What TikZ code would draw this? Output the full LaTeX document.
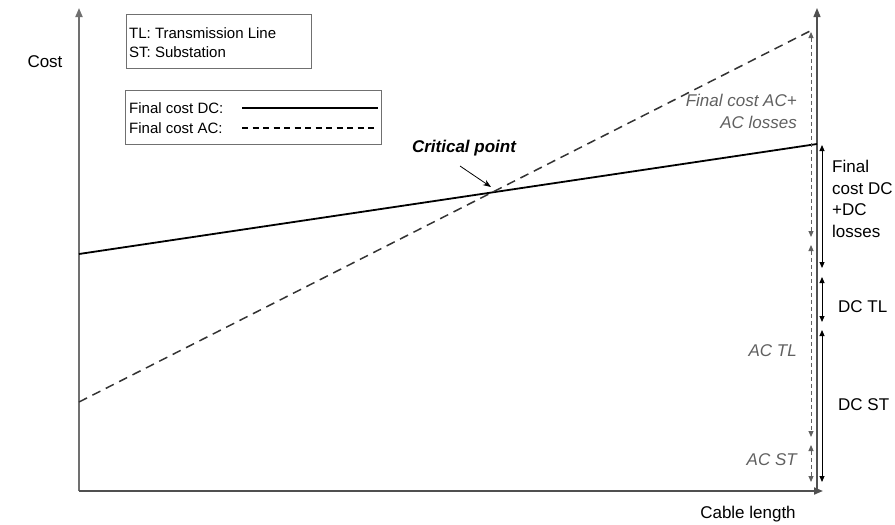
\documentclass[tikz,border=0pt]{standalone}
\usepackage{fontspec}
\setmainfont{Liberation Sans}
\usetikzlibrary{arrows.meta}
\definecolor{axisgray}{HTML}{707070}
\definecolor{axisdark}{HTML}{505050}
\definecolor{acgray}{HTML}{333333}
\definecolor{dimgray}{HTML}{606060}
\definecolor{txtgray}{HTML}{606060}
\begin{document}
\begin{tikzpicture}[x=1pt,y=-1pt,
  axisline/.style={line width=1.8pt,draw=axisgray,-{Triangle[length=9pt,width=7pt]}},
  dcline/.style={line width=1.8pt,draw=black},
  acline/.style={line width=1.5pt,draw=acgray,dash pattern=on 9pt off 6pt},
  acdim/.style={line width=1pt,draw=dimgray,dash pattern=on 4pt off 3pt,{Triangle[length=6pt,width=5pt]}-{Triangle[length=6pt,width=5pt]}},
  dcdim/.style={line width=1pt,draw=black,{Triangle[length=6pt,width=5pt]}-{Triangle[length=6pt,width=5pt]}},
  legbox/.style={draw=axisgray,line width=0.8pt},
  lbl/.style={font=\fontsize{17}{21}\selectfont,inner sep=0pt},
  actext/.style={font=\fontsize{17}{22}\selectfont\itshape,text=txtgray,inner sep=0pt,align=right},
  dctext/.style={font=\fontsize{17}{21.5}\selectfont,inner sep=0pt,align=left},
  legtext/.style={font=\fontsize{15}{19}\selectfont,inner sep=0pt,anchor=west}]
\useasboundingbox (0,0) rectangle (895,525);

% axes
\coordinate (O) at (79,491);
\coordinate (Ytop) at (79,8);
\coordinate (Xend) at (823,491);
\coordinate (Rbot) at (817,491);
\coordinate (Rtop) at (817,8);
\draw[axisline] (O) -- (Ytop);
\draw[axisline,draw=axisdark] (O) -- (Xend);
\draw[line width=1.2pt,draw=axisdark,-{Triangle[length=9pt,width=7pt]}] (Rbot) -- (Rtop);

\node[lbl,anchor=center] (cost) at (45,62) {Cost};
\node[lbl,anchor=center] (clen) at (748,514) {Cable length};

% cost lines
\coordinate (DCs) at (79,254);
\coordinate (DCe) at (817,144);
\coordinate (ACs) at (79,402);
\coordinate (ACe) at (814,29);
\draw[dcline] (DCs) -- (DCe);
\draw[acline] (ACs) -- (ACe);

% legend boxes
\node[legbox,minimum width=185pt,minimum height=54pt,anchor=north west] (box1) at (126,14) {};
\node[legtext] (tl) at (129,33) {TL: Transmission Line};
\node[legtext] (st) at (129,52) {ST: Substation};

\node[legbox,minimum width=256pt,minimum height=54pt,anchor=north west] (box2) at (125,90) {};
\node[legtext] (fdc) at (129,108) {Final cost DC:};
\node[legtext] (fac) at (129,128) {Final cost AC:};
\coordinate (l1a) at (242,108);
\coordinate (l1b) at (378,108);
\coordinate (l2a) at (242,128);
\coordinate (l2b) at (378,128);
\draw[line width=1.1pt] (l1a) -- (l1b);
\draw[line width=1.1pt,dash pattern=on 6pt off 4.5pt] (l2a) -- (l2b);

% critical point
\node[font=\fontsize{17}{21}\selectfont\bfseries\itshape,inner sep=0pt] (crit) at (464,148) {Critical point};
\coordinate (ca) at (460,166);
\coordinate (cb) at (491,187);
\draw[line width=0.8pt,-{Stealth[length=8pt,width=6pt]}] (ca) -- (cb);

% AC dimension arrows
\coordinate (a0) at (811,32);
\coordinate (a1) at (811,237);
\coordinate (a2) at (811,245);
\coordinate (a3) at (811,437);
\coordinate (a4) at (811,445);
\coordinate (a5) at (811,482);
\draw[acdim] (a0) -- (a1);
\draw[acdim] (a2) -- (a3);
\draw[acdim] (a4) -- (a5);

% DC dimension arrows
\coordinate (d0) at (822,145);
\coordinate (d1) at (822,268);
\coordinate (d2) at (822,277);
\coordinate (d3) at (822,322);
\coordinate (d4) at (822,330);
\coordinate (d5) at (822,482);
\draw[dcdim] (d0) -- (d1);
\draw[dcdim] (d2) -- (d3);
\draw[dcdim] (d4) -- (d5);

% AC labels
\node[actext,anchor=north east] (acf) at (797,94) {Final cost AC+\\AC losses};
\node[actext,anchor=east] (actl) at (797,351) {AC TL};
\node[actext,anchor=east] (acst) at (797,460) {AC ST};

% DC labels
\node[dctext,anchor=north west] (dcf) at (832,160) {Final\\cost DC\\+DC\\losses};
\node[lbl,anchor=west] (dctl) at (838,307) {DC TL};
\node[lbl,anchor=west] (dcst) at (838,405) {DC ST};
\end{tikzpicture}
\end{document}
